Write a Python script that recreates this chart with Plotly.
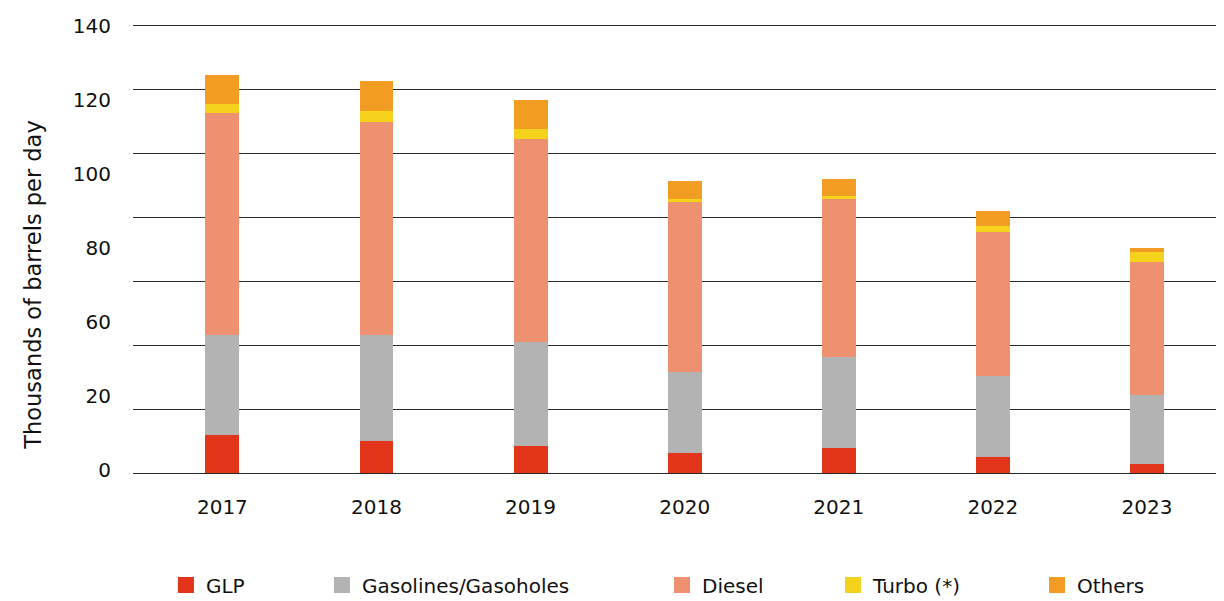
import plotly.graph_objects as go

years = ['2017', '2018', '2019', '2020', '2021', '2022', '2023']

glp = [11.8, 10.2, 8.4, 6.4, 8.0, 5.1, 2.9]
gasolines = [31.3, 32.9, 32.5, 25.4, 28.2, 25.4, 21.4]
diesel = [69.7, 66.9, 63.8, 53.1, 49.7, 45.0, 41.8]
turbo = [2.8, 3.4, 3.1, 0.9, 0.9, 1.9, 3.2]
others = [9.1, 9.4, 9.1, 5.7, 5.3, 4.7, 1.2]

series_names = ['GLP', 'Gasolines/Gasoholes', 'Diesel', 'Turbo (*)', 'Others']
series_colors = ['#E2351B', '#B3B3B3', '#EE9170', '#F5D31C', '#F19D24']

# the original spreads its y labels evenly, so they drift off the grid lines
tick_text = ['0', '20', '60', '80', '100', '120', '140']
tick_pos = [0.94 + i * 138.96 / 6 for i in range(7)]

Y_RANGE = [-0.6, 140.6]  # a little slack so the 0 and 140 grid lines get drawn
FONT = 'DejaVu Sans, sans-serif'

fig = go.Figure()
all_values = [glp, gasolines, diesel, turbo, others]
legend_ids = ['legend2', 'legend3', 'legend4', 'legend5', 'legend6']
for name, vals, color in zip(series_names, all_values, series_colors):
    fig.add_trace(go.Bar(
        x=years, y=vals, name=name,
        marker=dict(color=color, line=dict(width=0)),
        width=0.22, showlegend=False,
    ))

# legend entries: square markers get a bigger swatch than the bar icons
# (they also live on y2 so that the label axis gets drawn)
for name, color, lg in zip(series_names, series_colors, legend_ids):
    fig.add_trace(go.Scatter(
        x=[None], y=[None], mode='markers', name=name, legend=lg,
        yaxis='y2',
        marker=dict(symbol='square', size=24, color=color),
    ))

# one small legend per series so each can sit where the original puts it
legend_x = [0.0302, 0.1732, 0.4849, 0.6416, 0.8286]
legend_layouts = {}
for lg, lx in zip(legend_ids, legend_x):
    legend_layouts[lg] = dict(
        x=lx, y=-0.244, xanchor='left', yanchor='middle',
        orientation='h', font=dict(size=20, color='#111', family=FONT),
        bgcolor='rgba(0,0,0,0)', itemsizing='trace',
    )

# page body has an 8px margin, so the figure is sized 8px smaller
fig.update_layout(
    barmode='stack',
    width=1216, height=593,
    paper_bgcolor='white', plot_bgcolor='white',
    margin=dict(l=125, r=0, t=16, b=126, autoexpand=False),
    font=dict(family=FONT, size=20, color='#111'),
    showlegend=True,
    xaxis=dict(
        range=[-0.58, 6.5],
        showgrid=False, showline=False, zeroline=False,
        ticks='', ticklabelstandoff=18,
        tickfont=dict(size=20),
        automargin=False,
    ),
    # grid lines only
    yaxis=dict(
        range=Y_RANGE,
        tick0=0, dtick=20,
        showgrid=True, gridcolor='#2a2a2a', gridwidth=1.2,
        zeroline=False, showline=False, showticklabels=False,
        ticks='', automargin=False,
    ),
    # labels only, on a twin axis
    yaxis2=dict(
        overlaying='y', side='left', range=Y_RANGE,
        tickvals=tick_pos, ticktext=tick_text,
        showgrid=False, zeroline=False, showline=False,
        ticks='', ticklabelstandoff=21,
        tickfont=dict(size=20),
        automargin=False,
    ),
    annotations=[dict(
        text='Thousands of barrels per day', textangle=-90,
        xref='paper', yref='paper', x=-0.0925, y=0.42,
        xanchor='center', yanchor='middle', showarrow=False,
        font=dict(size=22.5),
    )],
    **legend_layouts,
)

fig.write_html("out.html")
